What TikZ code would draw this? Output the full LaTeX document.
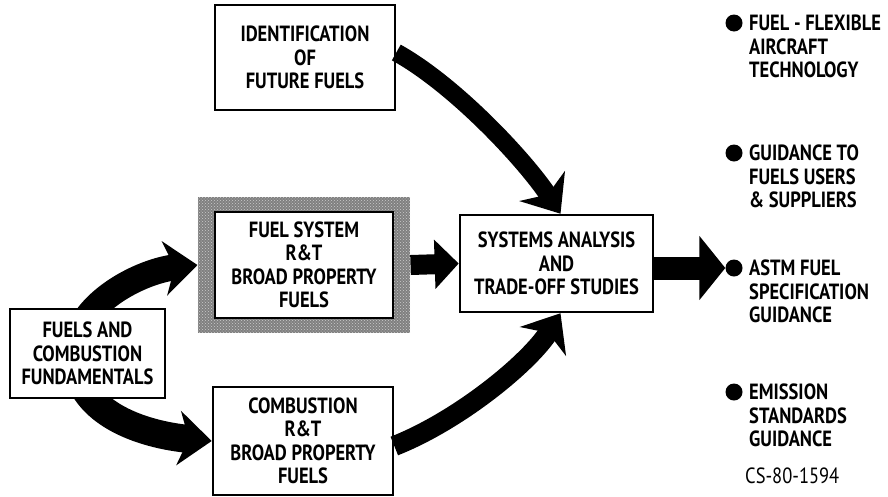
\documentclass[tikz,border=0pt]{standalone}
\usepackage{fontspec}
\setmainfont{PT Sans}[FakeStretch=0.84]
\usetikzlibrary{arrows.meta,patterns,fit,backgrounds}
\begin{document}
\begin{tikzpicture}[x=1pt,y=-1pt,
  lbl/.style={font=\fontsize{22}{23.5}\selectfont\bfseries},
  box/.style={lbl,draw,line width=2.6pt,fill=white,align=center,inner sep=0pt},
  curvearrow/.style={line width=#1,-{Stealth[length=33pt,width=54pt,inset=10pt]}},
  straightarrow/.style={line width=#1,-{Triangle[length=24pt,width=48pt]}},
  dot/.style={circle,fill=black,inner sep=0pt,minimum size=17pt},
  item/.style={lbl,align=left,inner sep=0pt,anchor=north west}]
\useasboundingbox (0,0) rectangle (888,496);

\node[box,minimum width=180pt,minimum height=105pt] (ident) at (305,57.5)
  {IDENTIFICATION\\OF\\FUTURE FUELS};
\node[box,minimum width=178pt,minimum height=106pt] (fsys) at (304,265)
  {FUEL SYSTEM\\R\&T\\BROAD PROPERTY\\FUELS};
\node[box,minimum width=193pt,minimum height=97pt] (sys) at (556.5,263.5)
  {SYSTEMS ANALYSIS\\AND\\TRADE-OFF STUDIES};
\node[box,minimum width=155pt,minimum height=89pt] (fund) at (87.5,353.5)
  {FUELS AND\\COMBUSTION\\FUNDAMENTALS};
\node[box,minimum width=180pt,minimum height=108pt] (comb) at (303,441)
  {COMBUSTION\\R\&T\\BROAD PROPERTY\\FUELS};

\begin{scope}[on background layer]
  \node[fit=(fsys),inner xsep=16pt,inner ysep=13.5pt,
        preaction={fill=black!50},pattern=crosshatch dots,pattern color=white!80!black] (fsysbg) {};
  % connectors whose tails start under the source box
  \draw[curvearrow=26pt] ([xshift=-6pt,yshift=-18pt]fund.north) .. controls (100,292) and (148,270) .. (fsysbg.west);
  \draw[curvearrow=28pt] ([xshift=-6pt,yshift=16pt]fund.south) .. controls (100,422) and (155,436) .. (comb.west);
\end{scope}

\draw[straightarrow=20pt] (fsysbg.east) -- (sys.west);
\draw[curvearrow=18pt] ([yshift=5pt]ident.east) .. controls (455,85) and (525,160) .. ([xshift=4pt]sys.north);
\draw[curvearrow=20pt] ([yshift=-5pt]comb.east) .. controls (460,420) and (530,362) .. ([xshift=4pt]sys.south);

% outcomes
\node[dot] (b1) at (734,23) {};
\node[item] (t1) at (749,15) {FUEL - FLEXIBLE\\AIRCRAFT\\TECHNOLOGY};
\node[dot] (b2) at (734,153) {};
\node[item] (t2) at (749,145) {GUIDANCE TO\\FUELS USERS\\\& SUPPLIERS};
\node[dot] (b3) at (734,268) {};
\node[item] (t3) at (749,260) {ASTM FUEL\\SPECIFICATION\\GUIDANCE};
\node[dot] (b4) at (734,392) {};
\node[item] (t4) at (749,384) {EMISSION\\STANDARDS\\GUIDANCE};
\node[lbl,inner sep=0pt,anchor=west,font=\fontsize{22}{23.5}\selectfont\mdseries] (cs) at (745,476) {CS-80-1594};

\draw[line width=23pt,-{Triangle[length=26pt,width=63pt]}] (sys.east |- b3) -- (b3.west);
\end{tikzpicture}
\end{document}
